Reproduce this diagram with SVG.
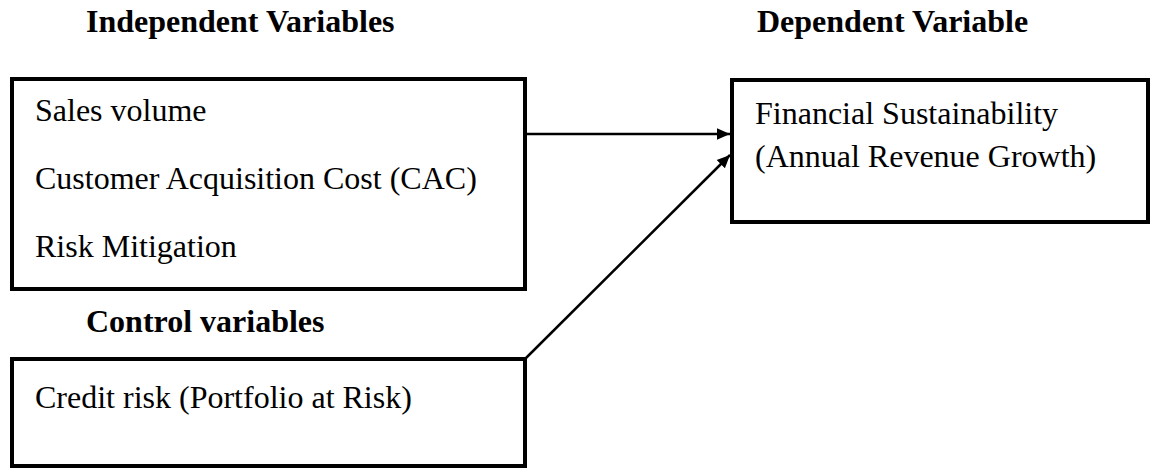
<svg xmlns="http://www.w3.org/2000/svg" width="1152" height="468" viewBox="0 0 1152 468">
<style>
.box{fill:#fff;stroke:#000;stroke-width:4}
.t{font-family:"Liberation Serif","Times New Roman",serif;font-size:32px;fill:#000}
.h{font-family:"Liberation Serif","Times New Roman",serif;font-size:32px;font-weight:bold;fill:#000}
.c{stroke:#000;stroke-width:2.5;fill:none}
</style>
<defs>
<marker id="arr" viewBox="0 0 10 10" refX="10" refY="5" markerWidth="13" markerHeight="13" markerUnits="userSpaceOnUse" orient="auto">
<path d="M0,0.5 L10,5 L0,9.5 z" fill="#000"/>
</marker>
</defs>
<text class="h" x="86" y="32">Independent Variables</text>
<text class="h" x="757" y="32">Dependent Variable</text>
<text class="h" x="86" y="332">Control variables</text>
<g id="independent">
<rect class="box" x="12" y="79" width="513" height="210"/>
<text class="t" x="35" y="121">Sales volume</text>
<text class="t" x="35" y="189">Customer Acquisition Cost (CAC)</text>
<text class="t" x="35" y="257">Risk Mitigation</text>
</g>
<g id="dependent">
<rect class="box" x="732" y="80" width="416" height="142"/>
<text class="t" x="755" y="124">Financial Sustainability</text>
<text class="t" x="755" y="167">(Annual Revenue Growth)</text>
</g>
<g id="control">
<rect class="box" x="12" y="359" width="513" height="107"/>
<text class="t" x="35" y="408">Credit risk (Portfolio at Risk)</text>
</g>
<g id="connectors">
<line class="c" x1="525" y1="134" x2="730" y2="134" marker-end="url(#arr)"/>
<line class="c" x1="525" y1="359" x2="730" y2="155" marker-end="url(#arr)"/>
</g>
</svg>
